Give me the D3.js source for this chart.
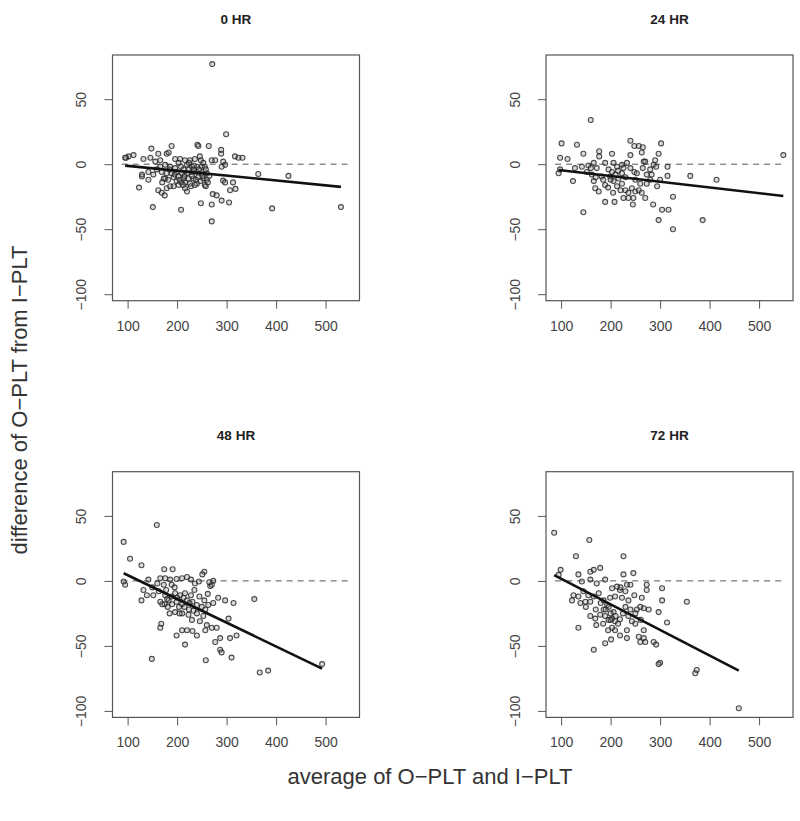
<!DOCTYPE html>
<html>
<head>
<meta charset="utf-8">
<script src="https://cdn.jsdelivr.net/npm/d3@7"></script>
<style>
  html, body { margin: 0; padding: 0; background: #fff; }
  svg { display: block; }
  text { font-family: "Liberation Sans", Arial, Helvetica, sans-serif; }
</style>
</head>
<body>
<svg id="chart" width="800" height="821"></svg>
<script>
// ---------------- data ----------------
const panelTitles = ["0 HR", "24 HR", "48 HR", "72 HR"];
const xTicks = [100, 200, 300, 400, 500];
const yTicks = [50, 0, -50, -100];
const xLabel = "average of O\u2212PLT and I\u2212PLT";
const yLabel = "difference of O\u2212PLT from I\u2212PLT";

// [average, difference]
const hr0 = [
[241,15],[243,14],[264,14],[189,14],[148,12],[162,8],[179,8],[183,9],[289,11],[289,8],[317,6],[324,5],[332,5],
[102,6],[112,7],[132,4],[146,5],[156,2],[166,3],[196,4],[206,4],[216,3],[226,3],[236,4],[246,6],[248,3],[253,1],
[270,3],[277,3],[293,2],[297,-0.5],[290,-2],[166,-2],[176,-0.5],[186,-2],[196,-3],[208,-2],[220,-0.5],[230,-2],
[240,-2],[250,-2],[256,-2],[142,-6],[159,-4],[169,-6],[179,-7],[189,-7],[199,-6],[210,-7],[220,-7],[230,-6],
[240,-6],[250,-7],[260,-7],[129,-9.5],[176,-11],[193,-10],[203,-9.5],[213,-11],[223,-11],[233,-11],[243,-10],
[253,-11],[260,-12],[142,-12],[173,-11],[364,-7.5],[293,-12.6],[297,-14],[313,-14],[129,-8],[199,-13],[216,-14],
[226,-15],[240,-15],[256,-16],[123,-18],[162,-20],[169,-22],[175,-24],[179,-18.5],[186,-17],[193,-17],[216,-18.5],
[220,-21],[228,-17],[236,-16],[258,-17],[272,-23],[280,-24],[307,-20],[318,-19],[290,-28],[305,-29.5],[270,-31],
[248,-30],[151,-33],[208,-35],[270,-44],[392,-34],[425,-9],[531,-33],[271,77],[299,23],[97,5],[95,5],
[203,1],[213,-4],[224,-4],[234,-4],[244,-4],[251,-9],[203,-16],[209,-14],[185,-4],[195,-8],[205,-12],[215,-9],
[230,-9],[238,-12],[247,-13],[258,-4],[265,-9],[182,-12],[170,-14],[152,-8],[262,-14],[234,-1],[224,1],[212,-16]
];
const hr24 = [
[160,34],[101,16],[132,15],[98,5],[113,4],[95,-7],[124,-13],[145,8],[177,10],[177,6],[203,8],[240,18],[248,14],
[257,14],[263,9],[240,7],[302,16],[297,8],[267,2],[290,3],[287,-0.5],[280,-4],[273,-8],[315,-2],[315,-9],[361,-9],
[414,-12],[142,-2],[128,-3],[155,-1],[166,1],[172,-3],[189,1],[196,-4],[206,1],[213,-2],[223,-0.5],[233,1],[240,-3],
[248,-6],[253,-7],[162,-8],[166,-13],[169,-18.5],[176,-21],[182,-9.5],[189,-16],[199,-9.5],[206,-13],[213,-17],
[216,-11],[223,-15],[230,-20],[236,-22],[243,-18.5],[250,-21],[257,-20],[263,-22],[270,-26],[226,-26],[236,-26],
[246,-26],[189,-29],[208,-29],[245,-31],[286,-31],[304,-35],[317,-35],[326,-25],[294,-17],[273,-15],[145,-37],
[297,-43],[326,-50],[386,-43],[98,-4],[152,-6],[203,-6],[223,-7],[549,7],
[200,-12],[210,-8],[220,-20],[230,-10],[185,-12],[195,-18],[205,-22],[215,-5],[250,-12],[260,-15],[265,-3],
[280,-12],[170,-10],[160,-3],[265,13],[270,2],[283,-8],[292,-2],[300,-12],[226,-3]
];
const hr48 = [
[159,43],[92,30],[105,17],[128,12],[174,9],[191,9],[255,7],[251,5],[95,-3],[92,-0.5],[142,1],[166,2],[176,2],
[186,1],[199,1.5],[210,2],[220,3],[228,1],[236,-2],[244,-0.5],[267,-4],[273,0],[270,-3],[132,-7],[139,-11],
[128,-15],[152,-11],[163,-8],[173,-3],[176,-11],[189,-12],[196,-9.5],[206,-11],[216,-9.5],[228,-11],[235,-7],
[166,-16],[175,-18],[183,-15],[199,-16],[210,-18],[220,-15],[231,-16],[240,-18.5],[250,-20],[257,-22],[263,-18.5],
[273,-17],[283,-13],[297,-15],[314,-17],[356,-14],[196,-24],[210,-25],[223,-26],[233,-23],[246,-31],[253,-27],
[304,-29],[168,-33],[166,-36],[260,-34],[270,-36],[280,-36],[199,-42],[210,-38],[220,-38],[231,-38.5],[240,-42],
[257,-38],[277,-47],[287,-44],[307,-44],[320,-42],[216,-49],[287,-53],[290,-55],[310,-59],[149,-60],[258,-61],
[493,-64],[367,-70.5],[384,-69],[213,-13],[224,-22],[189,-3],[181,-20],[204,-20],
[180,-14],[190,-18],[200,-13],[205,-25],[215,-20],[225,-17],[195,-5],[178,-7],[160,-2],[150,-5],[245,-12],
[255,-15],[262,-10],[265,-1],[240,-25],[230,-30],[185,-25],[170,-18]
];
const hr72 = [
[86,37],[157,31.5],[130,19],[226,19],[99,8.5],[95,4.6],[135,5],[159,7],[166,8.5],[179,10],[226,5],[246,6],
[273,-3],[304,-5.6],[304,-15],[354,-16],[297,-24],[314,-32],[142,-0.5],[159,1],[172,-2],[189,1],[203,-5.6],
[213,-4.4],[219,-7],[233,-3],[240,-3],[248,-11],[263,-13],[273,-7],[125,-11],[122,-15],[139,-17],[149,-16],
[159,-16],[166,-12],[176,-9.5],[186,-15],[193,-18.5],[199,-13],[209,-12],[223,-13],[236,-15],[253,-22],[267,-21],
[277,-22],[159,-27],[169,-29],[179,-26],[189,-27],[196,-30],[203,-29],[209,-31],[219,-29.5],[236,-27],[243,-31],
[250,-33],[261,-30],[171,-34],[135,-36],[203,-36],[209,-38],[219,-42],[233,-38],[233,-44],[257,-43],[267,-38],
[267,-44],[260,-47],[270,-47],[287,-47],[292,-49],[201,-45],[189,-48],[166,-53],[300,-63],[297,-64],[374,-68.5],
[371,-71],[459,-98],[196,-20],[206,-24],[186,-22],
[180,-17],[190,-22],[200,-25],[210,-27],[225,-25],[230,-20],[240,-22],[200,-30],[215,-33],[145,-8],[155,-11],
[135,-12],[150,-20],[170,-22],[220,-5],[230,-8],[250,-25],[260,-20],[185,-33],[195,-38]
];
const panelData = [hr0, hr24, hr48, hr72];

// least-squares fit lines: difference = intercept + slope * average
const fitIntercept = [2.44, -0.3, 22.7, 21.4];
const fitSlope = [-0.0374, -0.044, -0.1828, -0.1969];
const zeroLineRange = [88, 550];
const xDomain = [69.5, 568.5];
const yDomain = [-105, 84];

// ---------------- layout ----------------
const colLeft = [112.5, 546];
const rowTop = [55, 471.7];
const plotW = 247, plotH = 245.7;

const svg = d3.select("#chart");
const x = d3.scaleLinear().domain(xDomain).range([0, plotW]);
const y = d3.scaleLinear().domain(yDomain).range([plotH, 0]);

panelData.forEach((data, i) => {
  const col = i % 2, row = Math.floor(i / 2);
  const g = svg.append("g").attr("transform", `translate(${colLeft[col]},${rowTop[row]})`);

  // title
  g.append("text")
    .attr("x", plotW / 2).attr("y", -31.5)
    .attr("text-anchor", "middle")
    .attr("font-size", 13.5).attr("font-weight", "bold").attr("fill", "#222")
    .text(panelTitles[i]);

  // x axis
  const xAxis = g.append("g").attr("transform", `translate(0,${plotH})`)
    .call(d3.axisBottom(x).tickValues(xTicks).tickSize(8).tickPadding(12).tickFormat(d3.format("d")));
  xAxis.select(".domain").remove();
  xAxis.selectAll("line").attr("stroke", "#555");
  xAxis.selectAll("text").attr("font-size", 14).attr("fill", "#444")
    .attr("font-family", "Liberation Sans, Arial, sans-serif");

  // y axis
  const yAxis = g.append("g")
    .call(d3.axisLeft(y).tickValues(yTicks).tickSize(8).tickFormat(d3.format("d")));
  yAxis.select(".domain").remove();
  yAxis.selectAll("line").attr("stroke", "#555");
  yAxis.selectAll("text")
    .attr("font-size", 14).attr("fill", "#444")
    .attr("font-family", "Liberation Sans, Arial, sans-serif")
    .attr("text-anchor", "middle").attr("dy", null).attr("x", null)
    .attr("transform", "translate(-26.5,0) rotate(-90)");

  // zero reference line
  g.append("line")
    .attr("x1", x(zeroLineRange[0])).attr("x2", x(zeroLineRange[1]))
    .attr("y1", y(0)).attr("y2", y(0))
    .attr("stroke", "#555").attr("stroke-width", 1).attr("stroke-dasharray", "6,5");

  // points
  g.append("g").selectAll("circle").data(data).join("circle")
    .attr("cx", d => x(d[0])).attr("cy", d => y(d[1])).attr("r", 2.5)
    .attr("fill", "#888").attr("fill-opacity", 0.3)
    .attr("stroke", "#222").attr("stroke-width", 1.1).attr("stroke-opacity", 0.8);

  // fit line across the data range
  const ext = d3.extent(data, d => d[0]);
  const fit = ext.map(v => [v, fitIntercept[i] + fitSlope[i] * v]);
  g.append("path")
    .attr("d", d3.line().x(d => x(d[0])).y(d => y(d[1]))(fit))
    .attr("stroke", "#111").attr("stroke-width", 2.6).attr("fill", "none");

  // box
  g.append("rect").attr("x", 0).attr("y", 0).attr("width", plotW).attr("height", plotH)
    .attr("fill", "none").attr("stroke", "#555").attr("stroke-width", 1.2);
});

// outer axis titles
svg.append("text")
  .attr("x", 430).attr("y", 784)
  .attr("text-anchor", "middle").attr("font-size", 22).attr("fill", "#333")
  .text(xLabel);

svg.append("text")
  .attr("transform", "translate(27,400) rotate(-90)")
  .attr("text-anchor", "middle").attr("font-size", 22).attr("fill", "#333")
  .text(yLabel);
</script>
</body>
</html>
